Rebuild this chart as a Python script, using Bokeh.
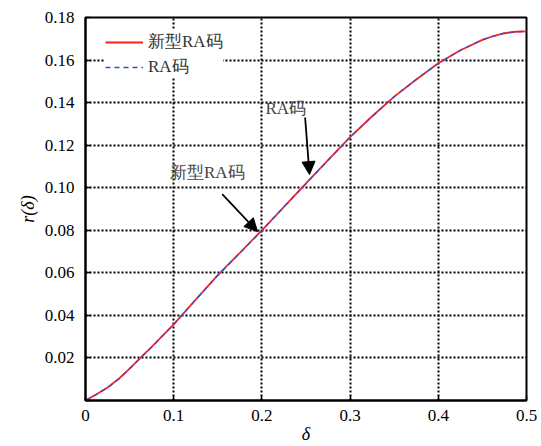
import numpy as np
from bokeh.plotting import figure
from bokeh.models import (Range1d, FixedTicker, Legend, LegendItem, Arrow, NormalHead, Label)
from bokeh.embed import file_html
from bokeh.resources import INLINE

# ---- data ----
delta = [0.0, 0.0125, 0.025, 0.0375, 0.05, 0.0625, 0.075, 0.0875, 0.1, 0.125, 0.15, 0.175, 0.2,
         0.225, 0.25, 0.275, 0.3, 0.325, 0.35, 0.375, 0.4, 0.425, 0.45, 0.4625, 0.475, 0.4875, 0.5]
r_new_ra = [0.0, 0.0029, 0.0061, 0.0101, 0.0150, 0.0201, 0.0252, 0.0305, 0.0358, 0.0474, 0.0589,
            0.0694, 0.0800, 0.0910, 0.1020, 0.1130, 0.1238, 0.1336, 0.1428, 0.1509, 0.1585,
            0.1646, 0.1695, 0.1713, 0.1726, 0.1733, 0.1735]
r_ra = [0.0, 0.0028, 0.0060, 0.0100, 0.0149, 0.0200, 0.0251, 0.0304, 0.0357, 0.0474, 0.0588,
        0.0693, 0.0799, 0.0910, 0.1019, 0.1129, 0.1238, 0.1335, 0.1428, 0.1509, 0.1584,
        0.1646, 0.1695, 0.1713, 0.1726, 0.1733, 0.1735]
x_ticks = [0, 0.1, 0.2, 0.3, 0.4, 0.5]
x_tick_labels = ["0", "0.1", "0.2", "0.3", "0.4", "0.5"]
y_ticks = [0, 0.02, 0.04, 0.06, 0.08, 0.10, 0.12, 0.14, 0.16, 0.18]
y_tick_labels = ["", "0.02", "0.04", "0.06", "0.08", "0.10", "0.12", "0.14", "0.16", "0.18"]
series_names = ["新型RA码", "RA码"]

FONT = "Liberation Serif"

p = figure(width=541, height=446, output_backend="svg", toolbar_location=None,
           x_range=Range1d(0, 0.5), y_range=Range1d(0, 0.18),
           min_border_left=85, min_border_right=15, min_border_top=17, min_border_bottom=45)
p.background_fill_color = "white"
p.border_fill_color = "white"
p.outline_line_color = "black"
p.outline_line_width = 2
p.outline_line_alpha = 1.0

for ax in (p.xaxis[0], p.yaxis[0]):
    ax.axis_line_color = "black"
    ax.axis_line_width = 2
    ax.major_tick_in = 5
    ax.major_tick_out = 0
    ax.minor_tick_in = 0
    ax.minor_tick_out = 0
    ax.major_tick_line_color = "black"
    ax.major_tick_line_width = 1.5
    ax.major_label_text_font = FONT
    ax.major_label_text_font_size = "17px"
    ax.major_label_text_color = "black"
    ax.axis_label_text_font = FONT
    ax.axis_label_text_font_size = "18px"
    ax.axis_label_text_font_style = "italic"
    ax.axis_label_text_color = "black"

p.xaxis.ticker = FixedTicker(ticks=x_ticks)
p.xaxis.major_label_overrides = {t: l for t, l in zip(x_ticks, x_tick_labels)}
p.yaxis.ticker = FixedTicker(ticks=y_ticks)
p.yaxis.major_label_overrides = {t: l for t, l in zip(y_ticks, y_tick_labels)}
p.xaxis.major_label_standoff = 9
p.yaxis.major_label_standoff = 11
p.xaxis.axis_label = "δ"
p.xaxis.axis_label_standoff = 0
p.yaxis.axis_label = "r(δ)"
p.yaxis.axis_label_standoff = 4

for g in (p.xgrid[0], p.ygrid[0]):
    g.grid_line_color = "black"
    g.grid_line_alpha = 1.0
    g.grid_line_dash = "2 2"
    g.grid_line_width = 2

r1 = p.line(delta, r_new_ra, line_color="#ff2020", line_width=1.8)
r2 = p.line(delta, r_ra, line_color="#3050d0", line_width=1.3, line_dash="5 4")

legend = Legend(items=[LegendItem(label=series_names[0], renderers=[r1]),
                       LegendItem(label=series_names[1], renderers=[r2])],
                location=(20, 322), padding=8, spacing=2,
                glyph_width=38, glyph_height=20, label_height=20, label_standoff=5,
                label_text_font=FONT, label_text_font_size="17px", label_text_color="#333333",
                background_fill_color="white", background_fill_alpha=1.0,
                border_line_color=None)
p.add_layout(legend, "center")

# annotations
tip1 = 0.195
p.add_layout(Arrow(end=NormalHead(size=13, fill_color="black", line_color="black"),
                   x_start=0.155, y_start=0.097, x_end=tip1, y_end=float(np.interp(tip1, delta, r_new_ra)) + 0.0015,
                   line_color="black", line_width=1.8))
p.add_layout(Label(x=0.138, y=0.107, text=series_names[0], text_align="center", text_baseline="middle",
                   text_font=FONT, text_font_size="17px", text_color="#444444"))
tip2 = 0.254
p.add_layout(Arrow(end=NormalHead(size=13, fill_color="black", line_color="black"),
                   x_start=0.249, y_start=0.133, x_end=tip2, y_end=float(np.interp(tip2, delta, r_ra)) + 0.0025,
                   line_color="black", line_width=1.8))
p.add_layout(Label(x=0.227, y=0.137, text=series_names[1], text_align="center", text_baseline="middle",
                   text_font=FONT, text_font_size="17px", text_color="#444444"))

open("out.html", "w").write(file_html(p, INLINE))
